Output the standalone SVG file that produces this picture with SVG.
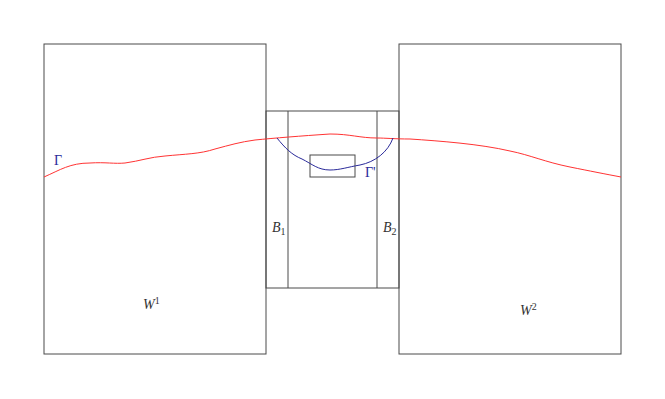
<svg xmlns="http://www.w3.org/2000/svg" width="665" height="399" viewBox="0 0 665 399">
<style>
.box{fill:none;stroke:#4a4a4a;stroke-width:1}
.lbl{font-family:"Liberation Serif",serif;font-size:14px;fill:#333}
.it{font-style:italic}
.sub{font-size:10px}
.blue{fill:#2a2a9a;font-family:"Liberation Serif",serif;font-size:14px}
</style>
<rect width="665" height="399" fill="#fff"/>
<g id="W1"><rect class="box" x="44" y="44" width="222" height="310"/>
<text class="lbl" x="143" y="309"><tspan class="it">W</tspan><tspan class="sub" dy="-5">1</tspan></text></g>
<g id="W2"><rect class="box" x="399" y="44" width="222" height="310"/>
<text class="lbl" x="520" y="315"><tspan class="it">W</tspan><tspan class="sub" dy="-5">2</tspan></text></g>
<g id="middle"><rect class="box" x="266" y="111" width="133" height="177"/></g>
<g id="B1"><line class="box" x1="288" y1="111" x2="288" y2="288"/>
<text class="lbl" x="272" y="232"><tspan class="it">B</tspan><tspan class="sub" dy="3">1</tspan></text></g>
<g id="B2"><line class="box" x1="377" y1="111" x2="377" y2="288"/>
<text class="lbl" x="383" y="232"><tspan class="it">B</tspan><tspan class="sub" dy="3">2</tspan></text></g>
<g id="small"><rect class="box" x="310" y="155" width="45" height="22"/></g>
<g id="curves">
<path d="M44,177 C60,170 70,163 90,163 C105,162 115,164 125,163 C140,161 150,157 165,156 C185,154 200,154 215,149 C230,145 240,142 255,140 C275,138 300,136 330,134 C350,134 360,138 377,138 C385,138 395,139 410,139 C440,141 480,144 510,151 C530,155 545,162 570,167 C590,171 605,174 621,177" fill="none" stroke="#ff3333" stroke-width="1"/>
<path d="M277,138 C285,148 292,155 302,159 C312,164 318,170 330,170 C340,170 348,167 360,165 C375,162 388,152 393,138" fill="none" stroke="#2a2a9a" stroke-width="1"/>
</g>
<text class="blue" x="54" y="165">Γ</text>
<text class="blue" x="365" y="177">Γ'</text>
</svg>
